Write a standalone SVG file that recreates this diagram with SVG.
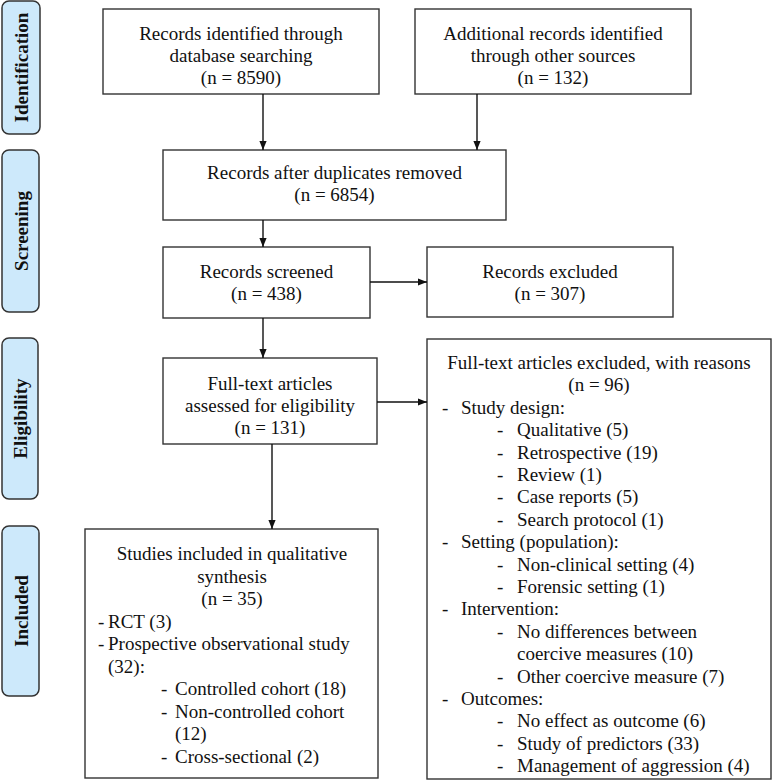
<svg xmlns="http://www.w3.org/2000/svg" width="772" height="783" viewBox="0 0 772 783">
<style>
.box{fill:#fff;stroke:#333;stroke-width:1.4}
.side{fill:#cde9fb;stroke:#333;stroke-width:1.5}
.t{font-family:"Liberation Serif","Times New Roman",serif;font-size:19px;fill:#111}
.c{text-anchor:middle}
.s{font-family:"Liberation Serif","Times New Roman",serif;font-size:19px;font-weight:bold;fill:#111;text-anchor:middle}
.conn line{stroke:#111;stroke-width:1.4;marker-end:url(#ah)}
</style>
<defs>
<marker id="ah" viewBox="0 0 10 8" refX="10" refY="4" markerWidth="9" markerHeight="7.5" markerUnits="userSpaceOnUse" orient="auto">
<path d="M0,0 L10,4 L0,8 z" fill="#111"/>
</marker>
</defs>
<rect width="772" height="783" fill="#fff"/>

<g id="side-identification">
<rect class="side" x="2" y="1" width="38" height="133" rx="7"/>
<text class="s" transform="translate(28,67.5) rotate(-90)">Identification</text>
</g>
<g id="side-screening">
<rect class="side" x="2" y="150" width="37" height="162" rx="7"/>
<text class="s" transform="translate(27.5,231) rotate(-90)">Screening</text>
</g>
<g id="side-eligibility">
<rect class="side" x="2" y="338" width="36" height="161" rx="7"/>
<text class="s" transform="translate(27,418.5) rotate(-90)">Eligibility</text>
</g>
<g id="side-included">
<rect class="side" x="2" y="526" width="37" height="170" rx="7"/>
<text class="s" transform="translate(27.5,611) rotate(-90)">Included</text>
</g>

<g id="n-database">
<rect class="box" x="103" y="9" width="276" height="85"/>
<text class="t c" x="241" y="40">Records identified through</text>
<text class="t c" x="241" y="62">database searching</text>
<text class="t c" x="241" y="84">(n = 8590)</text>
</g>
<g id="n-other">
<rect class="box" x="415" y="9" width="276" height="85"/>
<text class="t c" x="553" y="40">Additional records identified</text>
<text class="t c" x="553" y="62">through other sources</text>
<text class="t c" x="553" y="84">(n = 132)</text>
</g>
<g id="n-dedup">
<rect class="box" x="163" y="150" width="343" height="70"/>
<text class="t c" x="334.5" y="179">Records after duplicates removed</text>
<text class="t c" x="334.5" y="201">(n = 6854)</text>
</g>
<g id="n-screened">
<rect class="box" x="163" y="247" width="207" height="71"/>
<text class="t c" x="266.5" y="278">Records screened</text>
<text class="t c" x="266.5" y="300">(n = 438)</text>
</g>
<g id="n-excluded">
<rect class="box" x="427" y="247" width="246" height="70"/>
<text class="t c" x="550" y="278">Records excluded</text>
<text class="t c" x="550" y="300">(n = 307)</text>
</g>
<g id="n-fulltext">
<rect class="box" x="163" y="358" width="214" height="86"/>
<text class="t c" x="270" y="390">Full-text articles</text>
<text class="t c" x="270" y="412">assessed for eligibility</text>
<text class="t c" x="270" y="434">(n = 131)</text>
</g>
<g id="n-ftexcluded">
<rect class="box" x="427" y="339" width="344" height="440"/>
<text class="t c" x="599" y="369">Full-text articles excluded, with reasons</text>
<text class="t c" x="599" y="391.4">(n = 96)</text>
<text class="t" x="442" y="413.8">-</text><text class="t" x="461" y="413.8">Study design:</text>
<text class="t" x="497" y="436.2">-</text><text class="t" x="517" y="436.2">Qualitative (5)</text>
<text class="t" x="497" y="458.6">-</text><text class="t" x="517" y="458.6">Retrospective (19)</text>
<text class="t" x="497" y="481">-</text><text class="t" x="517" y="481">Review (1)</text>
<text class="t" x="497" y="503.4">-</text><text class="t" x="517" y="503.4">Case reports (5)</text>
<text class="t" x="497" y="525.8">-</text><text class="t" x="517" y="525.8">Search protocol (1)</text>
<text class="t" x="442" y="548.2">-</text><text class="t" x="461" y="548.2">Setting (population):</text>
<text class="t" x="497" y="570.6">-</text><text class="t" x="517" y="570.6">Non-clinical setting (4)</text>
<text class="t" x="497" y="593">-</text><text class="t" x="517" y="593">Forensic setting (1)</text>
<text class="t" x="442" y="615.4">-</text><text class="t" x="461" y="615.4">Intervention:</text>
<text class="t" x="497" y="637.8">-</text><text class="t" x="517" y="637.8">No differences between</text>
<text class="t" x="517" y="660.2">coercive measures (10)</text>
<text class="t" x="497" y="682.6">-</text><text class="t" x="517" y="682.6">Other coercive measure (7)</text>
<text class="t" x="442" y="705">-</text><text class="t" x="461" y="705">Outcomes:</text>
<text class="t" x="497" y="727.4">-</text><text class="t" x="517" y="727.4">No effect as outcome (6)</text>
<text class="t" x="497" y="749.8">-</text><text class="t" x="517" y="749.8">Study of predictors (33)</text>
<text class="t" x="497" y="772.2">-</text><text class="t" x="517" y="772.2">Management of aggression (4)</text>
</g>
<g id="n-included">
<rect class="box" x="85" y="529" width="293" height="249"/>
<text class="t c" x="232" y="560">Studies included in qualitative</text>
<text class="t c" x="232" y="582.5">synthesis</text>
<text class="t c" x="232" y="605">(n = 35)</text>
<text class="t" x="98" y="627.5">-</text><text class="t" x="108" y="627.5">RCT (3)</text>
<text class="t" x="98" y="650">-</text><text class="t" x="108" y="650">Prospective observational study</text>
<text class="t" x="108" y="672.5">(32):</text>
<text class="t" x="161" y="695">-</text><text class="t" x="175" y="695">Controlled cohort (18)</text>
<text class="t" x="161" y="717.5">-</text><text class="t" x="175" y="717.5">Non-controlled cohort</text>
<text class="t" x="175" y="740">(12)</text>
<text class="t" x="161" y="762.5">-</text><text class="t" x="175" y="762.5">Cross-sectional (2)</text>
</g>

<g id="connectors" class="conn">
<line x1="263" y1="94" x2="263" y2="150"/>
<line x1="477" y1="94" x2="477" y2="150"/>
<line x1="263" y1="220" x2="263" y2="247"/>
<line x1="370" y1="282" x2="427" y2="282"/>
<line x1="263" y1="318" x2="263" y2="358"/>
<line x1="377" y1="402" x2="427" y2="402"/>
<line x1="272" y1="444" x2="272" y2="529"/>
</g>
</svg>
